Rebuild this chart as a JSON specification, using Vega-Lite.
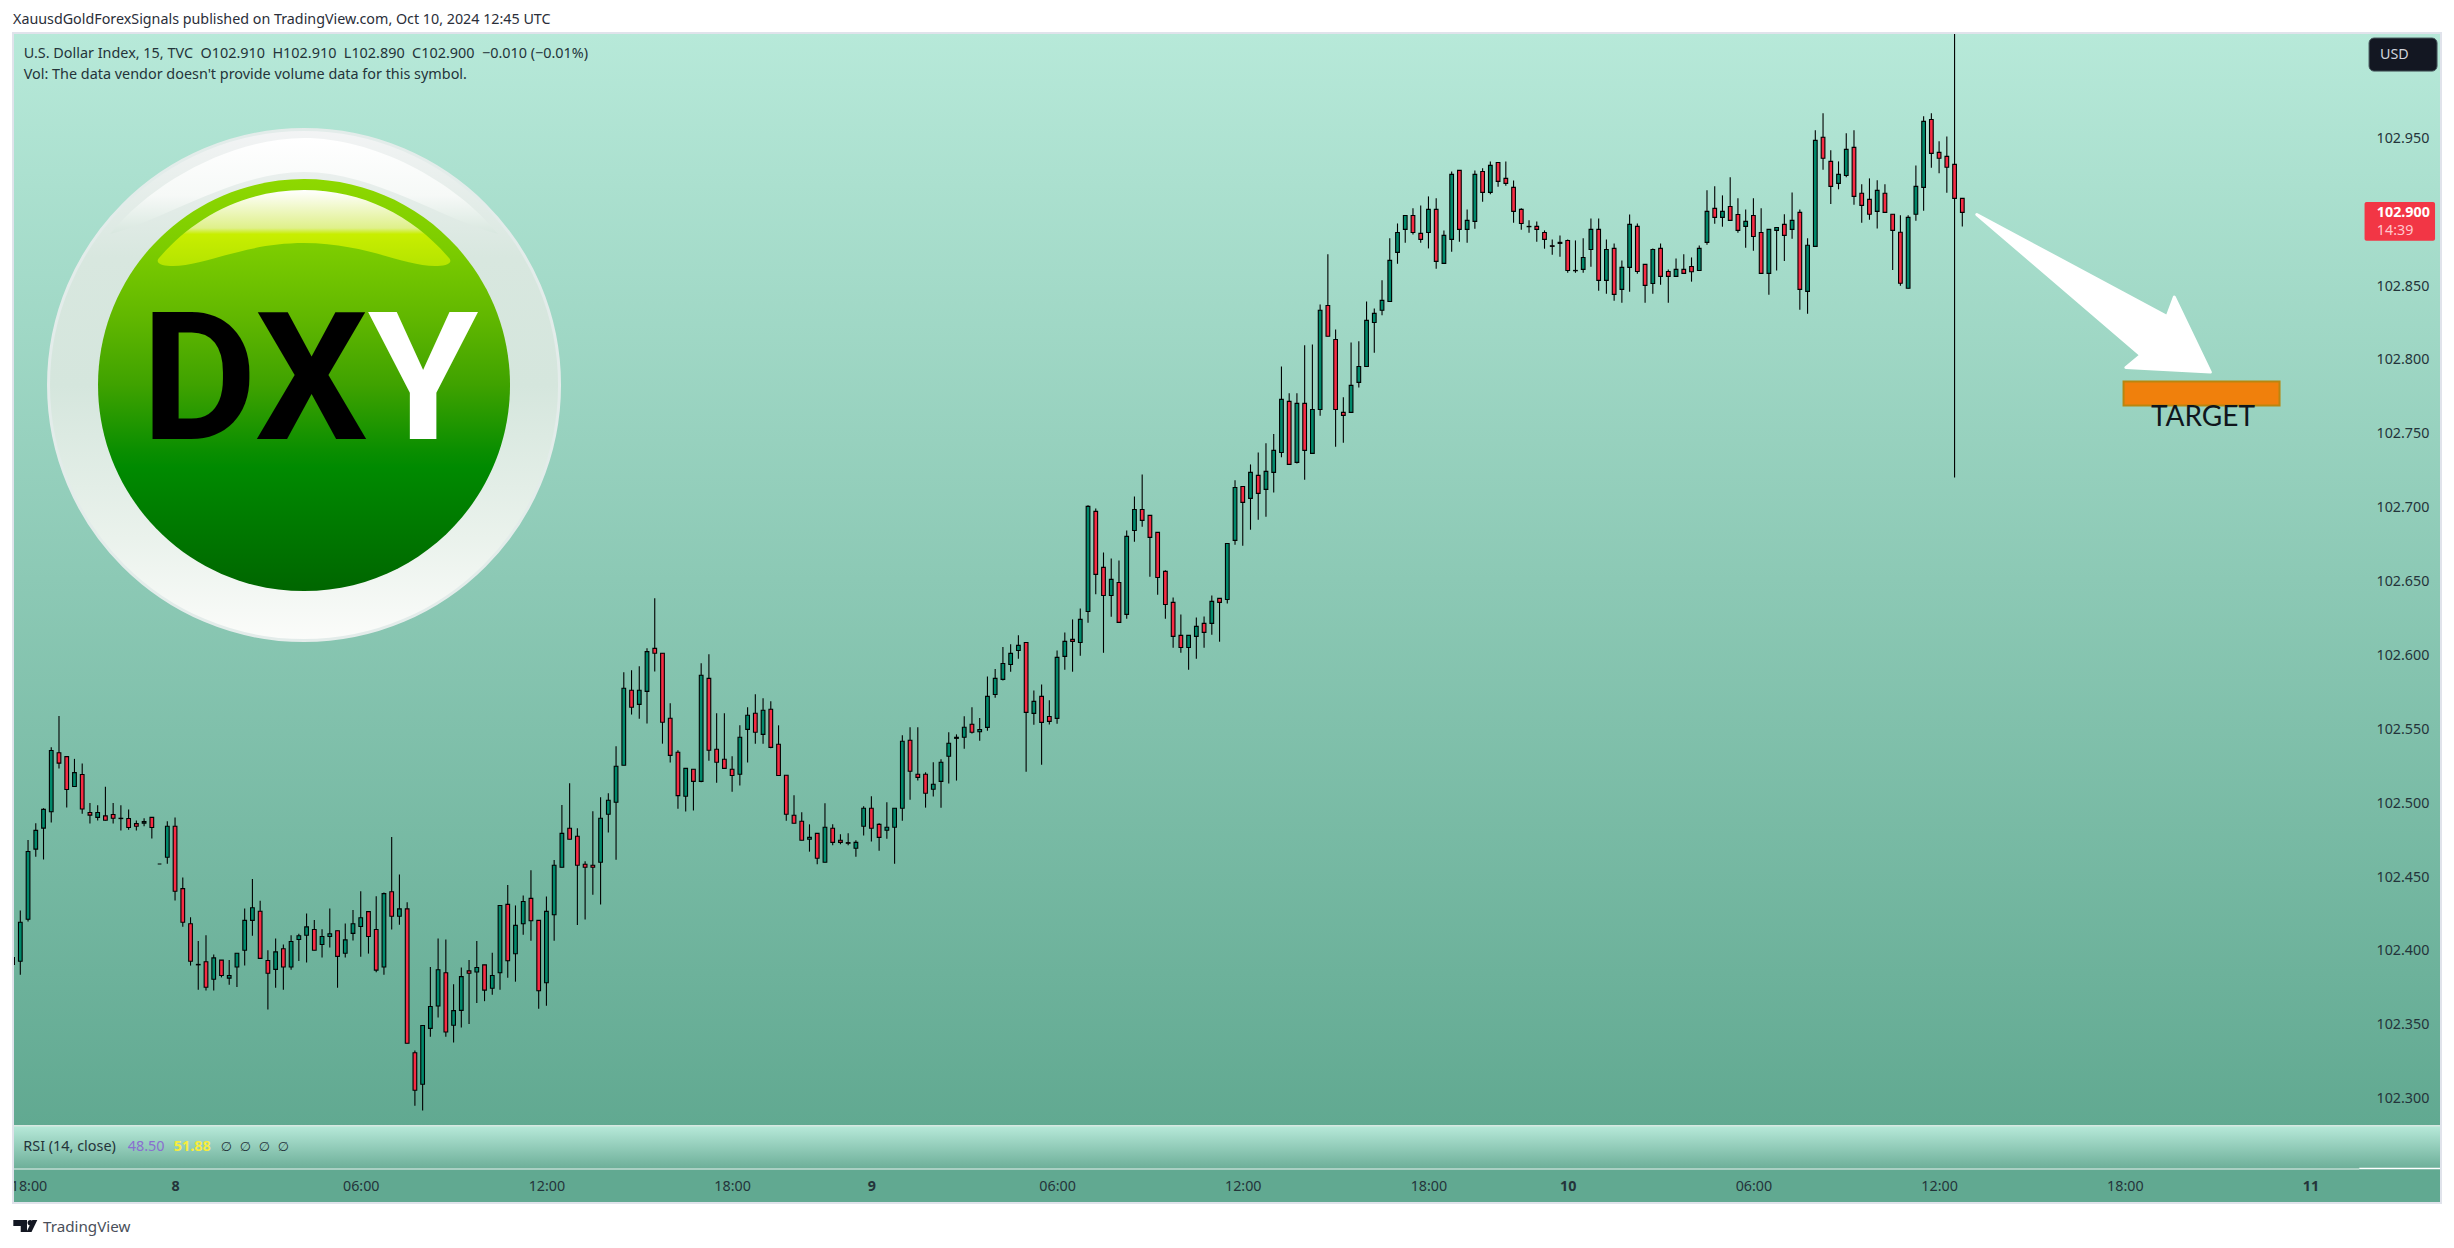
{
"$schema":"https://vega.github.io/schema/vega-lite/v6.json",
"autosize":{"type":"none"},
"padding":{"left":13,"top":33,"right":13,"bottom":45},
"width":2428,"height":1170,
"background":"#ffffff",
"config":{"view":{"stroke":null},"font":"Noto Sans","scale":{"continuousPadding":0}},
"encoding":{
"x":{"field":"bar","type":"quantitative","scale":{"domain":[0.056,313.87],"nice":false,"zero":false,"padding":0},
"axis":{"title":null,"orient":"bottom","offset":-24,"domain":false,"ticks":false,"grid":false,"labelPadding":0,"labelBaseline":"top","labelFont":"Noto Sans","labelFontSize":14.3,"labelColor":"#24343a","labelFlush":false,"labelOverlap":false,"labelBound":false,"zindex":1,
"values":[21,45,69,93,111,135,159,183,201,225,249,273,297],
"labelFontWeight":{"condition":{"test":"datum.value==21||datum.value==111||datum.value==201||datum.value==297","value":"bold"},"value":"normal"},
"labelExpr":"datum.value==21?'8':datum.value==111?'9':datum.value==201?'10':datum.value==297?'11':(datum.value==45||datum.value==135||datum.value==225)?'06:00':(datum.value==69||datum.value==159||datum.value==249)?'12:00':'18:00'"}},
"y":{"field":"price","type":"quantitative","scale":{"domain":[102.2294,103.0213],"nice":false,"zero":false},
"axis":{"title":null,"orient":"right","offset":-65,"domain":false,"ticks":false,"grid":false,"labelPadding":0,"labelAlign":"left","labelFlush":false,"labelFont":"Noto Sans","labelFontSize":14.3,"labelColor":"#24343a","labelOverlap":false,"labelBound":false,"format":".3f","zindex":1,
"values":[102.3,102.35,102.4,102.45,102.5,102.55,102.6,102.65,102.7,102.75,102.8,102.85,102.95]}}
},
"layer":[
{"data":{"values":[{"bar":0.056,"bar2":313.87,"price":103.0213,"price2":102.2818}]},
 "mark":{"type":"rect","color":{"gradient":"linear","x1":0,"x2":0,"y1":0,"y2":1,"stops":[{"offset":0,"color":"#b7e9d9"},{"offset":1,"color":"#61a991"}]}},
 "encoding":{"x2":{"field":"bar2"},"y2":{"field":"price2"}}},
{"data":{"values":[{"bar":0.056,"bar2":313.87,"price":102.2815,"price2":102.2524}]},
 "mark":{"type":"rect","color":{"gradient":"linear","x1":0,"x2":0,"y1":0,"y2":1,"stops":[{"offset":0,"color":"#b7e9d9"},{"offset":1,"color":"#6cae98"}]}},
 "encoding":{"x2":{"field":"bar2"},"y2":{"field":"price2"}}},
{"data":{"values":[{"bar":0.056,"bar2":313.87,"price":102.2524,"price2":102.2294}]},
 "mark":{"type":"rect","color":"#61a991"},
 "encoding":{"x2":{"field":"bar2"},"y2":{"field":"price2"}}},
{"data":{"values":[{"bar":0.056,"bar2":313.87,"price":102.2817}]},
 "mark":{"type":"rule","color":"#d8e8e2","strokeWidth":1.5},
 "encoding":{"x2":{"field":"bar2"}}},
{"data":{"values":[{"bar":0.056,"bar2":303.3,"price":102.2524}]},
 "mark":{"type":"rule","color":"#eef5f2","strokeWidth":1},
 "encoding":{"x2":{"field":"bar2"}}},
{"data":{"values":[{"bar":303.3,"bar2":313.87,"price":102.2527}]},
 "mark":{"type":"rule","color":"#ffffff","strokeWidth":1.5},
 "encoding":{"x2":{"field":"bar2"}}},
{"data":{"values":[{"bar":37.67,"price":102.783}]},
 "mark":{"type":"point","filled":true,"opacity":1,"size":4,"strokeWidth":3,"stroke":"#e3ecea",
 "fill":{"gradient":"linear","x1":0,"x2":0,"y1":0,"y2":1,"stops":[{"offset":0,"color":"#f3f4f5"},{"offset":0.25,"color":"#d8e7df"},{"offset":0.5,"color":"#d5e6dd"},{"offset":0.8,"color":"#eaf2ec"},{"offset":1,"color":"#fbfcfa"}]},
 "shape":"M0,-255.5 C141,-255.5,255.5,-141,255.5,0 C255.5,141,141,255.5,0,255.5 C-141,255.5,-255.5,141,-255.5,0 C-255.5,-141,-141,-255.5,0,-255.5 Z"}},
{"data":{"values":[{"bar":37.67,"price":102.783}]},
 "mark":{"type":"point","filled":true,"opacity":1,"size":4,"strokeWidth":0,
 "fill":{"gradient":"linear","x1":0,"x2":0,"y1":0,"y2":1,"stops":[{"offset":0,"color":"#ffffff"},{"offset":0.6,"color":"#f6f9f7"},{"offset":1,"color":"#d8e7df"}]},
 "shape":"M-194,-151 C-150,-205,-70,-247,0,-247 C70,-247,150,-205,194,-151 C140,-165,70,-213,0,-213 C-70,-213,-140,-165,-194,-151 Z"}},
{"data":{"values":[{"bar":37.67,"price":102.783}]},
 "mark":{"type":"point","filled":true,"opacity":1,"size":4,"strokeWidth":0,
 "fill":{"gradient":"linear","x1":0,"x2":0,"y1":0,"y2":1,"stops":[{"offset":0,"color":"#8ed800"},{"offset":0.17,"color":"#7ccc00"},{"offset":0.33,"color":"#62b800"},{"offset":0.5,"color":"#3fa200"},{"offset":0.66,"color":"#0a8e00"},{"offset":0.7,"color":"#008a00"},{"offset":1,"color":"#006600"}]},
 "shape":"M0,-206 C113.8,-206,206,-113.8,206,0 C206,113.8,113.8,206,0,206 C-113.8,206,-206,113.8,-206,0 C-206,-113.8,-113.8,-206,0,-206 Z"}},
{"data":{"values":[{"bar":37.67,"price":102.783}]},
 "mark":{"type":"point","filled":true,"opacity":1,"size":4,"strokeWidth":0,
 "fill":{"gradient":"linear","x1":0,"x2":0,"y1":0,"y2":1,"stops":[{"offset":0,"color":"#ffffff"},{"offset":0.5,"color":"#dff08a"},{"offset":0.58,"color":"#c8ee00"},{"offset":1,"color":"#b4e400"}]},
 "shape":"M-145,-127 C-110,-168,-60,-195,0,-195 C60,-195,110,-168,145,-127 C150,-121,140,-119,131,-119 C100,-119,60,-142,0,-142 C-60,-142,-100,-119,-131,-119 C-140,-119,-150,-121,-145,-127 Z"}},
{"data":{"values":[{"bar":45.94,"price":102.7823,"label":"DX"}]},
 "mark":{"type":"text","font":"Roboto","fontWeight":"bold","fontSize":178,"align":"right","baseline":"middle","color":"#000000"},
 "encoding":{"text":{"field":"label"}}},
{"data":{"values":[{"bar":45.94,"price":102.7823,"label":"Y"}]},
 "mark":{"type":"text","font":"Roboto","fontWeight":"bold","fontSize":178,"align":"left","baseline":"middle","color":"#ffffff"},
 "encoding":{"text":{"field":"label"}}},
{"data":{"values":[{"bar":269.0,"price":102.8453}]},
 "mark":{"type":"point","filled":true,"opacity":1,"size":4,"fill":"#ffffff","stroke":"#ffffff","strokeWidth":3,"strokeJoin":"round",
 "shape":"M-117,-78.5 L73.3,23.5 L80.5,4 L116.5,79 L32,74.5 L47,62 Z"}},
{"data":{"name":"candles"},"mark":{"type":"rule","color":"#000000","strokeWidth":1.1,"clip":true},
 "encoding":{"y":{"field":"high","type":"quantitative","scale":{"domain":[102.2294,103.0213],"nice":false,"zero":false},
 "axis":{"title":null,"orient":"right","offset":-65,"domain":false,"ticks":false,"grid":false,"labelPadding":0,"labelAlign":"left","labelFlush":false,"labelFont":"Noto Sans","labelFontSize":14.3,"labelColor":"#24343a","labelOverlap":false,"labelBound":false,"format":".3f","zindex":1,"values":[102.3,102.35,102.4,102.45,102.5,102.55,102.6,102.65,102.7,102.75,102.8,102.85,102.95]}},"y2":{"field":"low"}}},
{"data":{"name":"candles"},"mark":{"type":"bar","size":3.7,"stroke":"#000000","strokeWidth":1.1,"orient":"vertical","clip":true},
 "encoding":{"y":{"field":"open","type":"quantitative","scale":{"domain":[102.2294,103.0213],"nice":false,"zero":false},
 "axis":{"title":null,"orient":"right","offset":-65,"domain":false,"ticks":false,"grid":false,"labelPadding":0,"labelAlign":"left","labelFlush":false,"labelFont":"Noto Sans","labelFontSize":14.3,"labelColor":"#24343a","labelOverlap":false,"labelBound":false,"format":".3f","zindex":1,"values":[102.3,102.35,102.4,102.45,102.5,102.55,102.6,102.65,102.7,102.75,102.8,102.85,102.95]}},"y2":{"field":"close"},
 "color":{"field":"dir","type":"nominal","scale":{"domain":["up","down"],"range":["#00896b","#f62c44"]},"legend":null}}},
{"data":{"values":[{"bar":272.84,"bar2":293,"price":102.7854,"price2":102.7692}]},
 "mark":{"type":"rect","color":"#f0800c","stroke":"#b9860f","strokeWidth":2},
 "encoding":{"x2":{"field":"bar2"},"y2":{"field":"price2"}}},
{"data":{"values":[{"bar":283.1,"price":102.7607,"label":"TARGET"}]},
 "mark":{"type":"text","font":"Lato","fontSize":28,"align":"center","baseline":"middle","color":"#10161c"},
 "encoding":{"text":{"field":"label"}}},
{"data":{"values":[{"bar":304.57,"bar2":313.36,"price":103.0179,"price2":102.9955}]},
 "mark":{"type":"rect","color":"#131722","stroke":"#4a5a60","strokeWidth":1,"cornerRadius":5},
 "encoding":{"x2":{"field":"bar2"},"y2":{"field":"price2"}}},
{"data":{"values":[{"bar":305.99,"price":103.0066,"label":"USD"}]},
 "mark":{"type":"text","font":"Noto Sans","fontSize":14.3,"align":"left","baseline":"middle","color":"#d1d4dc"},
 "encoding":{"text":{"field":"label"}}},
{"data":{"values":[{"bar":303.99,"bar2":313.1,"price":102.9069,"price2":102.8807}]},
 "mark":{"type":"rect","color":"#f23645","cornerRadius":2},
 "encoding":{"x2":{"field":"bar2"},"y2":{"field":"price2"}}},
{"data":{"values":[{"bar":305.57,"price":102.8996,"label":"102.900"}]},
 "mark":{"type":"text","font":"Noto Sans","fontSize":14.3,"fontWeight":"bold","align":"left","baseline":"middle","color":"#ffffff"},
 "encoding":{"text":{"field":"label"}}},
{"data":{"values":[{"bar":305.57,"price":102.8875,"label":"14:39"}]},
 "mark":{"type":"text","font":"Noto Sans","fontSize":14.3,"align":"left","baseline":"middle","color":"#ffc7cd"},
 "encoding":{"text":{"field":"label"}}},
{"data":{"values":[{"bar":0.056,"price":103.0301,"label":"XauusdGoldForexSignals published on TradingView.com, Oct 10, 2024 12:45 UTC"}]},
 "mark":{"type":"text","font":"Noto Sans","fontSize":14.3,"align":"left","baseline":"middle","color":"#2a2e39"},
 "encoding":{"text":{"field":"label"}}},
{"data":{"values":[{"bar":1.44,"price":103.0071,"label":"U.S. Dollar Index, 15, TVC\u00a0\u00a0O102.910\u00a0\u00a0H102.910\u00a0\u00a0L102.890\u00a0\u00a0C102.900\u00a0\u00a0\u22120.010 (\u22120.01%)"},{"bar":1.44,"price":102.9928,"label":"Vol: The data vendor doesn't provide volume data for this symbol."}]},
 "mark":{"type":"text","font":"Noto Sans","fontSize":14.4,"align":"left","baseline":"middle","color":"#24343a"},
 "encoding":{"text":{"field":"label"}}},
{"data":{"values":[{"bar":1.39,"price":102.2675,"label":"RSI (14, close)"}]},
 "mark":{"type":"text","font":"Noto Sans","fontSize":14.4,"align":"left","baseline":"middle","color":"#24343a"},
 "encoding":{"text":{"field":"label"}}},
{"data":{"values":[{"bar":14.88,"price":102.2675,"label":"48.50"}]},
 "mark":{"type":"text","font":"Noto Sans","fontSize":14.4,"align":"left","baseline":"middle","color":"#8a6fd0"},
 "encoding":{"text":{"field":"label"}}},
{"data":{"values":[{"bar":20.83,"price":102.2675,"label":"51.88"}]},
 "mark":{"type":"text","font":"Noto Sans","fontSize":14.4,"fontWeight":"bold","align":"left","baseline":"middle","color":"#f7ec3c"},
 "encoding":{"text":{"field":"label"}}},
{"data":{"values":[{"bar":26.9,"price":102.2675,"label":"\u2205"},{"bar":29.36,"price":102.2675,"label":"\u2205"},{"bar":31.81,"price":102.2675,"label":"\u2205"},{"bar":34.27,"price":102.2675,"label":"\u2205"}]},
 "mark":{"type":"text","font":"DejaVu Sans","fontSize":13,"align":"left","baseline":"middle","color":"#24343a"},
 "encoding":{"text":{"field":"label"}}},
{"data":{"values":[{"bar":2.12,"price":102.2405,"label":"18:00"}]},
 "mark":{"type":"text","font":"Noto Sans","fontSize":14.3,"align":"center","baseline":"middle","color":"#24343a","clip":true},
 "encoding":{"text":{"field":"label"}}},
{"data":{"values":[{"bar":1.61,"price":102.2138}]},
 "mark":{"type":"point","filled":true,"opacity":1,"size":4,"fill":"#131722","strokeWidth":0,
 "shape":"M-11.7,-6 L2,-6 L2,6 L-4.3,6 L-4.3,0 L-11.7,0 Z M12.3,-6 L6.5,6 L1.5,6 L7.3,-6 Z M2.5,-3.3 C2.5,-4.8,3.7,-6,5.2,-6 C6.7,-6,7.9,-4.8,7.9,-3.3 C7.9,-1.8,6.7,-0.6,5.2,-0.6 C3.7,-0.6,2.5,-1.8,2.5,-3.3 Z"}},
{"data":{"values":[{"bar":3.93,"price":102.2132,"label":"TradingView"}]},
 "mark":{"type":"text","font":"Noto Sans","fontSize":15.2,"align":"left","baseline":"middle","color":"#4a4f5a"},
 "encoding":{"text":{"field":"label"}}},
{"data":{"values":[{"bar":0.056,"bar2":313.87,"price":103.0213,"price2":102.2294}]},
 "mark":{"type":"rect","filled":false,"stroke":"#e0e3eb","strokeWidth":2},
 "encoding":{"x2":{"field":"bar2"},"y2":{"field":"price2"}}}
],
"datasets":{"candles":[
{"bar":0,"open":102.3956,"high":102.3956,"low":102.3909,"close":102.3909,"dir":"down"},
{"bar":1,"open":102.393,"high":102.4274,"low":102.3839,"close":102.4194,"dir":"up"},
{"bar":2,"open":102.4215,"high":102.4751,"low":102.4199,"close":102.4673,"dir":"up"},
{"bar":3,"open":102.4689,"high":102.4865,"low":102.4637,"close":102.4816,"dir":"up"},
{"bar":4,"open":102.4831,"high":102.4966,"low":102.4619,"close":102.4958,"dir":"up"},
{"bar":5,"open":102.4942,"high":102.5378,"low":102.487,"close":102.5357,"dir":"up"},
{"bar":6,"open":102.5341,"high":102.559,"low":102.5235,"close":102.5271,"dir":"down"},
{"bar":7,"open":102.5315,"high":102.5315,"low":102.4971,"close":102.5093,"dir":"down"},
{"bar":8,"open":102.5113,"high":102.53,"low":102.5113,"close":102.5207,"dir":"up"},
{"bar":9,"open":102.5194,"high":102.5269,"low":102.4929,"close":102.4961,"dir":"down"},
{"bar":10,"open":102.4937,"high":102.5002,"low":102.4862,"close":102.4919,"dir":"down"},
{"bar":11,"open":102.4904,"high":102.4986,"low":102.4883,"close":102.4937,"dir":"up"},
{"bar":12,"open":102.4914,"high":102.5111,"low":102.4883,"close":102.4885,"dir":"down"},
{"bar":13,"open":102.4924,"high":102.5002,"low":102.4862,"close":102.4898,"dir":"down"},
{"bar":14,"open":102.4898,"high":102.4986,"low":102.4816,"close":102.4896,"dir":"down"},
{"bar":15,"open":102.4896,"high":102.4958,"low":102.4821,"close":102.4836,"dir":"down"},
{"bar":16,"open":102.4862,"high":102.4883,"low":102.4816,"close":102.4844,"dir":"down"},
{"bar":17,"open":102.4865,"high":102.4898,"low":102.4844,"close":102.4875,"dir":"up"},
{"bar":18,"open":102.4904,"high":102.4904,"low":102.4761,"close":102.4836,"dir":"down"},
{"bar":19,"open":102.4588,"high":102.4588,"low":102.4588,"close":102.4588,"dir":"down"},
{"bar":20,"open":102.4634,"high":102.4878,"low":102.459,"close":102.4844,"dir":"up"},
{"bar":21,"open":102.4844,"high":102.4904,"low":102.4342,"close":102.4404,"dir":"down"},
{"bar":22,"open":102.4422,"high":102.4497,"low":102.4163,"close":102.4194,"dir":"down"},
{"bar":23,"open":102.4184,"high":102.4228,"low":102.3901,"close":102.393,"dir":"down"},
{"bar":24,"open":102.3909,"high":102.4067,"low":102.3738,"close":102.3906,"dir":"down"},
{"bar":25,"open":102.3927,"high":102.4106,"low":102.3733,"close":102.3754,"dir":"down"},
{"bar":26,"open":102.3808,"high":102.3976,"low":102.3733,"close":102.3953,"dir":"up"},
{"bar":27,"open":102.3938,"high":102.3938,"low":102.3821,"close":102.3834,"dir":"down"},
{"bar":28,"open":102.3816,"high":102.3938,"low":102.3772,"close":102.3834,"dir":"up"},
{"bar":29,"open":102.3891,"high":102.3984,"low":102.3756,"close":102.3984,"dir":"up"},
{"bar":30,"open":102.4005,"high":102.4287,"low":102.3901,"close":102.4207,"dir":"up"},
{"bar":31,"open":102.4207,"high":102.4487,"low":102.4103,"close":102.4292,"dir":"up"},
{"bar":32,"open":102.4269,"high":102.4339,"low":102.395,"close":102.395,"dir":"down"},
{"bar":33,"open":102.3935,"high":102.4005,"low":102.3603,"close":102.3849,"dir":"down"},
{"bar":34,"open":102.3875,"high":102.4085,"low":102.3751,"close":102.3994,"dir":"up"},
{"bar":35,"open":102.4015,"high":102.4044,"low":102.3738,"close":102.3891,"dir":"down"},
{"bar":36,"open":102.3891,"high":102.4106,"low":102.3873,"close":102.4064,"dir":"up"},
{"bar":37,"open":102.4077,"high":102.4116,"low":102.3932,"close":102.4103,"dir":"up"},
{"bar":38,"open":102.4106,"high":102.4253,"low":102.3922,"close":102.4163,"dir":"up"},
{"bar":39,"open":102.4145,"high":102.4209,"low":102.4005,"close":102.4005,"dir":"down"},
{"bar":40,"open":102.4044,"high":102.4147,"low":102.3956,"close":102.4098,"dir":"up"},
{"bar":41,"open":102.4098,"high":102.4287,"low":102.4023,"close":102.4116,"dir":"up"},
{"bar":42,"open":102.4137,"high":102.4137,"low":102.3751,"close":102.3963,"dir":"down"},
{"bar":43,"open":102.3984,"high":102.4186,"low":102.3956,"close":102.4075,"dir":"up"},
{"bar":44,"open":102.4119,"high":102.4277,"low":102.407,"close":102.4184,"dir":"up"},
{"bar":45,"open":102.4165,"high":102.4404,"low":102.3961,"close":102.4225,"dir":"up"},
{"bar":46,"open":102.4266,"high":102.4266,"low":102.3982,"close":102.4098,"dir":"down"},
{"bar":47,"open":102.4145,"high":102.437,"low":102.3855,"close":102.387,"dir":"down"},
{"bar":48,"open":102.3891,"high":102.4396,"low":102.3839,"close":102.4388,"dir":"up"},
{"bar":49,"open":102.4401,"high":102.4771,"low":102.4145,"close":102.4235,"dir":"down"},
{"bar":50,"open":102.4235,"high":102.4518,"low":102.4178,"close":102.4285,"dir":"up"},
{"bar":51,"open":102.4285,"high":102.4329,"low":102.3375,"close":102.3375,"dir":"down"},
{"bar":52,"open":102.3311,"high":102.3326,"low":102.2953,"close":102.3057,"dir":"down"},
{"bar":53,"open":102.3098,"high":102.3495,"low":102.292,"close":102.3495,"dir":"up"},
{"bar":54,"open":102.3476,"high":102.3891,"low":102.342,"close":102.3624,"dir":"up"},
{"bar":55,"open":102.3627,"high":102.4085,"low":102.3549,"close":102.3873,"dir":"up"},
{"bar":56,"open":102.3852,"high":102.4077,"low":102.342,"close":102.3451,"dir":"down"},
{"bar":57,"open":102.3497,"high":102.3774,"low":102.3381,"close":102.3596,"dir":"up"},
{"bar":58,"open":102.3598,"high":102.3888,"low":102.3482,"close":102.3826,"dir":"up"},
{"bar":59,"open":102.3865,"high":102.3938,"low":102.3505,"close":102.3849,"dir":"down"},
{"bar":60,"open":102.3857,"high":102.4067,"low":102.3647,"close":102.3888,"dir":"up"},
{"bar":61,"open":102.3906,"high":102.3906,"low":102.366,"close":102.3735,"dir":"down"},
{"bar":62,"open":102.3748,"high":102.3987,"low":102.3704,"close":102.3834,"dir":"up"},
{"bar":63,"open":102.3852,"high":102.4309,"low":102.3737,"close":102.4308,"dir":"up"},
{"bar":64,"open":102.4315,"high":102.4446,"low":102.3819,"close":102.3934,"dir":"down"},
{"bar":65,"open":102.3981,"high":102.4308,"low":102.3792,"close":102.4173,"dir":"up"},
{"bar":66,"open":102.4184,"high":102.4376,"low":102.411,"close":102.4335,"dir":"up"},
{"bar":67,"open":102.4356,"high":102.4547,"low":102.4069,"close":102.4204,"dir":"down"},
{"bar":68,"open":102.4207,"high":102.4207,"low":102.3609,"close":102.3731,"dir":"down"},
{"bar":69,"open":102.3785,"high":102.4369,"low":102.3629,"close":102.4268,"dir":"up"},
{"bar":70,"open":102.4245,"high":102.4616,"low":102.4069,"close":102.458,"dir":"up"},
{"bar":71,"open":102.4566,"high":102.4988,"low":102.4566,"close":102.4796,"dir":"up"},
{"bar":72,"open":102.483,"high":102.5135,"low":102.4756,"close":102.4756,"dir":"down"},
{"bar":73,"open":102.4776,"high":102.483,"low":102.4176,"close":102.458,"dir":"down"},
{"bar":74,"open":102.4587,"high":102.4607,"low":102.4212,"close":102.4566,"dir":"down"},
{"bar":75,"open":102.458,"high":102.4945,"low":102.4381,"close":102.4566,"dir":"down"},
{"bar":76,"open":102.46,"high":102.504,"low":102.4314,"close":102.4898,"dir":"up"},
{"bar":77,"open":102.4925,"high":102.5067,"low":102.4801,"close":102.502,"dir":"up"},
{"bar":78,"open":102.5006,"high":102.5385,"low":102.4618,"close":102.525,"dir":"up"},
{"bar":79,"open":102.5257,"high":102.5886,"low":102.5257,"close":102.5778,"dir":"up"},
{"bar":80,"open":102.5764,"high":102.59,"low":102.56,"close":102.5649,"dir":"down"},
{"bar":81,"open":102.5669,"high":102.5927,"low":102.5572,"close":102.5764,"dir":"up"},
{"bar":82,"open":102.5757,"high":102.6048,"low":102.5539,"close":102.6026,"dir":"up"},
{"bar":83,"open":102.6048,"high":102.6387,"low":102.5891,"close":102.6015,"dir":"down"},
{"bar":84,"open":102.6015,"high":102.6015,"low":102.5403,"close":102.5548,"dir":"down"},
{"bar":85,"open":102.5575,"high":102.5676,"low":102.5275,"close":102.5324,"dir":"down"},
{"bar":86,"open":102.5345,"high":102.5358,"low":102.4963,"close":102.5051,"dir":"down"},
{"bar":87,"open":102.5047,"high":102.5236,"low":102.4943,"close":102.5236,"dir":"up"},
{"bar":88,"open":102.523,"high":102.523,"low":102.495,"close":102.5148,"dir":"down"},
{"bar":89,"open":102.5148,"high":102.5947,"low":102.5142,"close":102.5866,"dir":"up"},
{"bar":90,"open":102.5845,"high":102.6008,"low":102.5288,"close":102.5358,"dir":"down"},
{"bar":91,"open":102.5365,"high":102.5609,"low":102.5139,"close":102.5277,"dir":"down"},
{"bar":92,"open":102.5297,"high":102.5609,"low":102.5236,"close":102.5236,"dir":"down"},
{"bar":93,"open":102.523,"high":102.5318,"low":102.5078,"close":102.5187,"dir":"down"},
{"bar":94,"open":102.5196,"high":102.5527,"low":102.5119,"close":102.5446,"dir":"up"},
{"bar":95,"open":102.55,"high":102.5649,"low":102.5275,"close":102.5595,"dir":"up"},
{"bar":96,"open":102.5609,"high":102.5737,"low":102.5403,"close":102.548,"dir":"down"},
{"bar":97,"open":102.5466,"high":102.571,"low":102.5403,"close":102.5629,"dir":"up"},
{"bar":98,"open":102.5636,"high":102.569,"low":102.5372,"close":102.5378,"dir":"down"},
{"bar":99,"open":102.5399,"high":102.5527,"low":102.5187,"close":102.5187,"dir":"down"},
{"bar":100,"open":102.5189,"high":102.5189,"low":102.4882,"close":102.4925,"dir":"down"},
{"bar":101,"open":102.4918,"high":102.5054,"low":102.4864,"close":102.4864,"dir":"down"},
{"bar":102,"open":102.4878,"high":102.4939,"low":102.4749,"close":102.4749,"dir":"down"},
{"bar":103,"open":102.4756,"high":102.4857,"low":102.4672,"close":102.4769,"dir":"up"},
{"bar":104,"open":102.4796,"high":102.4796,"low":102.4587,"close":102.4627,"dir":"down"},
{"bar":105,"open":102.46,"high":102.4999,"low":102.46,"close":102.4837,"dir":"up"},
{"bar":106,"open":102.483,"high":102.4857,"low":102.4715,"close":102.4735,"dir":"down"},
{"bar":107,"open":102.4749,"high":102.479,"low":102.4722,"close":102.4735,"dir":"down"},
{"bar":108,"open":102.4733,"high":102.4796,"low":102.4715,"close":102.4729,"dir":"down"},
{"bar":109,"open":102.4695,"high":102.4749,"low":102.4638,"close":102.4735,"dir":"up"},
{"bar":110,"open":102.4844,"high":102.4979,"low":102.4781,"close":102.4966,"dir":"up"},
{"bar":111,"open":102.4966,"high":102.5047,"low":102.474,"close":102.483,"dir":"down"},
{"bar":112,"open":102.4857,"high":102.4864,"low":102.4679,"close":102.4769,"dir":"down"},
{"bar":113,"open":102.4817,"high":102.5006,"low":102.476,"close":102.4837,"dir":"up"},
{"bar":114,"open":102.4837,"high":102.4966,"low":102.4591,"close":102.4966,"dir":"up"},
{"bar":115,"open":102.4966,"high":102.546,"low":102.4882,"close":102.5419,"dir":"up"},
{"bar":116,"open":102.5426,"high":102.5514,"low":102.5024,"close":102.5216,"dir":"down"},
{"bar":117,"open":102.5196,"high":102.5514,"low":102.5153,"close":102.5175,"dir":"down"},
{"bar":118,"open":102.5196,"high":102.5209,"low":102.497,"close":102.5067,"dir":"down"},
{"bar":119,"open":102.5094,"high":102.5277,"low":102.5045,"close":102.5128,"dir":"up"},
{"bar":120,"open":102.5148,"high":102.5297,"low":102.497,"close":102.5277,"dir":"up"},
{"bar":121,"open":102.5318,"high":102.548,"low":102.5133,"close":102.5406,"dir":"up"},
{"bar":122,"open":102.5439,"high":102.5466,"low":102.5153,"close":102.5446,"dir":"up"},
{"bar":123,"open":102.5446,"high":102.5588,"low":102.5369,"close":102.5514,"dir":"up"},
{"bar":124,"open":102.5534,"high":102.5649,"low":102.5471,"close":102.548,"dir":"down"},
{"bar":125,"open":102.5484,"high":102.5576,"low":102.5423,"close":102.5499,"dir":"up"},
{"bar":126,"open":102.5513,"high":102.5858,"low":102.549,"close":102.5723,"dir":"up"},
{"bar":127,"open":102.5736,"high":102.5908,"low":102.5714,"close":102.5845,"dir":"up"},
{"bar":128,"open":102.5838,"high":102.6057,"low":102.5831,"close":102.5946,"dir":"up"},
{"bar":129,"open":102.5939,"high":102.6075,"low":102.589,"close":102.6014,"dir":"up"},
{"bar":130,"open":102.6034,"high":102.6136,"low":102.5978,"close":102.6068,"dir":"up"},
{"bar":131,"open":102.6088,"high":102.6088,"low":102.5213,"close":102.5615,"dir":"down"},
{"bar":132,"open":102.5608,"high":102.5763,"low":102.5531,"close":102.5689,"dir":"up"},
{"bar":133,"open":102.5723,"high":102.5804,"low":102.526,"close":102.5547,"dir":"down"},
{"bar":134,"open":102.5587,"high":102.5696,"low":102.5533,"close":102.5554,"dir":"down"},
{"bar":135,"open":102.5574,"high":102.6034,"low":102.5538,"close":102.5987,"dir":"up"},
{"bar":136,"open":102.5994,"high":102.6156,"low":102.5903,"close":102.6095,"dir":"up"},
{"bar":137,"open":102.6109,"high":102.6244,"low":102.589,"close":102.6095,"dir":"down"},
{"bar":138,"open":102.6088,"high":102.6318,"low":102.5998,"close":102.6244,"dir":"up"},
{"bar":139,"open":102.6298,"high":102.7016,"low":102.6221,"close":102.7009,"dir":"up"},
{"bar":140,"open":102.6975,"high":102.6995,"low":102.6415,"close":102.6549,"dir":"down"},
{"bar":141,"open":102.6596,"high":102.6697,"low":102.6018,"close":102.6406,"dir":"down"},
{"bar":142,"open":102.6406,"high":102.6657,"low":102.6262,"close":102.6515,"dir":"up"},
{"bar":143,"open":102.6494,"high":102.6643,"low":102.6224,"close":102.6224,"dir":"down"},
{"bar":144,"open":102.6278,"high":102.6846,"low":102.6248,"close":102.6806,"dir":"up"},
{"bar":145,"open":102.6846,"high":102.7076,"low":102.677,"close":102.6988,"dir":"up"},
{"bar":146,"open":102.6988,"high":102.7225,"low":102.6871,"close":102.6914,"dir":"down"},
{"bar":147,"open":102.6948,"high":102.6948,"low":102.6533,"close":102.6799,"dir":"down"},
{"bar":148,"open":102.6833,"high":102.6833,"low":102.6411,"close":102.6528,"dir":"down"},
{"bar":149,"open":102.6569,"high":102.6576,"low":102.6248,"close":102.6345,"dir":"down"},
{"bar":150,"open":102.6359,"high":102.6393,"low":102.6052,"close":102.6129,"dir":"down"},
{"bar":151,"open":102.6136,"high":102.6278,"low":102.6018,"close":102.6054,"dir":"down"},
{"bar":152,"open":102.6054,"high":102.6136,"low":102.5903,"close":102.6136,"dir":"up"},
{"bar":153,"open":102.6129,"high":102.6257,"low":102.5978,"close":102.6197,"dir":"up"},
{"bar":154,"open":102.6217,"high":102.6264,"low":102.6052,"close":102.6156,"dir":"down"},
{"bar":155,"open":102.6217,"high":102.6406,"low":102.614,"close":102.6366,"dir":"up"},
{"bar":156,"open":102.6386,"high":102.6386,"low":102.6093,"close":102.6359,"dir":"down"},
{"bar":157,"open":102.6379,"high":102.6758,"low":102.6352,"close":102.6758,"dir":"up"},
{"bar":158,"open":102.6779,"high":102.7185,"low":102.6749,"close":102.7137,"dir":"up"},
{"bar":159,"open":102.7144,"high":102.7144,"low":102.6743,"close":102.7036,"dir":"down"},
{"bar":160,"open":102.7063,"high":102.7293,"low":102.6851,"close":102.7239,"dir":"up"},
{"bar":161,"open":102.7219,"high":102.7374,"low":102.6918,"close":102.7097,"dir":"down"},
{"bar":162,"open":102.7124,"high":102.7436,"low":102.6939,"close":102.7246,"dir":"up"},
{"bar":163,"open":102.7239,"high":102.7499,"low":102.7103,"close":102.7388,"dir":"up"},
{"bar":164,"open":102.7374,"high":102.7956,"low":102.7341,"close":102.7733,"dir":"up"},
{"bar":165,"open":102.772,"high":102.7774,"low":102.7293,"close":102.7293,"dir":"down"},
{"bar":166,"open":102.7307,"high":102.7774,"low":102.73,"close":102.7706,"dir":"up"},
{"bar":167,"open":102.7706,"high":102.8099,"low":102.7189,"close":102.7388,"dir":"down"},
{"bar":168,"open":102.7368,"high":102.8105,"low":102.7368,"close":102.7665,"dir":"up"},
{"bar":169,"open":102.7665,"high":102.8376,"low":102.7623,"close":102.8336,"dir":"up"},
{"bar":170,"open":102.8369,"high":102.8715,"low":102.816,"close":102.816,"dir":"down"},
{"bar":171,"open":102.8139,"high":102.8207,"low":102.7413,"close":102.7665,"dir":"down"},
{"bar":172,"open":102.7645,"high":102.7747,"low":102.744,"close":102.7625,"dir":"down"},
{"bar":173,"open":102.7645,"high":102.8119,"low":102.7645,"close":102.7828,"dir":"up"},
{"bar":174,"open":102.7848,"high":102.8126,"low":102.7814,"close":102.7956,"dir":"up"},
{"bar":175,"open":102.7956,"high":102.8396,"low":102.7956,"close":102.8268,"dir":"up"},
{"bar":176,"open":102.8254,"high":102.8349,"low":102.8049,"close":102.8315,"dir":"up"},
{"bar":177,"open":102.8336,"high":102.8539,"low":102.8302,"close":102.8403,"dir":"up"},
{"bar":178,"open":102.8396,"high":102.8823,"low":102.8396,"close":102.8674,"dir":"up"},
{"bar":179,"open":102.8728,"high":102.8924,"low":102.8651,"close":102.8863,"dir":"up"},
{"bar":180,"open":102.8884,"high":102.8978,"low":102.8793,"close":102.8978,"dir":"up"},
{"bar":181,"open":102.8978,"high":102.9026,"low":102.885,"close":102.8863,"dir":"down"},
{"bar":182,"open":102.8857,"high":102.9046,"low":102.8793,"close":102.8816,"dir":"down"},
{"bar":183,"open":102.8863,"high":102.9107,"low":102.8755,"close":102.9019,"dir":"up"},
{"bar":184,"open":102.9019,"high":102.9094,"low":102.8618,"close":102.8667,"dir":"down"},
{"bar":185,"open":102.8654,"high":102.8877,"low":102.8654,"close":102.8843,"dir":"up"},
{"bar":186,"open":102.8816,"high":102.9276,"low":102.8733,"close":102.9256,"dir":"up"},
{"bar":187,"open":102.9283,"high":102.9283,"low":102.88,"close":102.8884,"dir":"down"},
{"bar":188,"open":102.8884,"high":102.9019,"low":102.8793,"close":102.8945,"dir":"up"},
{"bar":189,"open":102.8938,"high":102.9283,"low":102.8888,"close":102.9256,"dir":"up"},
{"bar":190,"open":102.9276,"high":102.9297,"low":102.9071,"close":102.9134,"dir":"down"},
{"bar":191,"open":102.9134,"high":102.9344,"low":102.9121,"close":102.9317,"dir":"up"},
{"bar":192,"open":102.9337,"high":102.9337,"low":102.9172,"close":102.9209,"dir":"down"},
{"bar":193,"open":102.9229,"high":102.9344,"low":102.9179,"close":102.9195,"dir":"down"},
{"bar":194,"open":102.9168,"high":102.9215,"low":102.8929,"close":102.9006,"dir":"down"},
{"bar":195,"open":102.9019,"high":102.9026,"low":102.8881,"close":102.8924,"dir":"down"},
{"bar":196,"open":102.8904,"high":102.8945,"low":102.8861,"close":102.8902,"dir":"down"},
{"bar":197,"open":102.8904,"high":102.8938,"low":102.88,"close":102.8884,"dir":"down"},
{"bar":198,"open":102.8863,"high":102.8877,"low":102.8753,"close":102.8816,"dir":"down"},
{"bar":199,"open":102.8773,"high":102.8816,"low":102.8712,"close":102.8769,"dir":"down"},
{"bar":200,"open":102.8796,"high":102.8843,"low":102.8699,"close":102.8789,"dir":"down"},
{"bar":201,"open":102.8809,"high":102.8816,"low":102.859,"close":102.8606,"dir":"down"},
{"bar":202,"open":102.8606,"high":102.8809,"low":102.859,"close":102.8604,"dir":"down"},
{"bar":203,"open":102.8613,"high":102.8823,"low":102.859,"close":102.8694,"dir":"up"},
{"bar":204,"open":102.8748,"high":102.8958,"low":102.8631,"close":102.8884,"dir":"up"},
{"bar":205,"open":102.8884,"high":102.8958,"low":102.8469,"close":102.8539,"dir":"down"},
{"bar":206,"open":102.8539,"high":102.8816,"low":102.8448,"close":102.8748,"dir":"up"},
{"bar":207,"open":102.8755,"high":102.8789,"low":102.8401,"close":102.8444,"dir":"down"},
{"bar":208,"open":102.8478,"high":102.8674,"low":102.8387,"close":102.8627,"dir":"up"},
{"bar":209,"open":102.8627,"high":102.8985,"low":102.8462,"close":102.8918,"dir":"up"},
{"bar":210,"open":102.8904,"high":102.8924,"low":102.8584,"close":102.8599,"dir":"down"},
{"bar":211,"open":102.8647,"high":102.8647,"low":102.8387,"close":102.8505,"dir":"down"},
{"bar":212,"open":102.8518,"high":102.8755,"low":102.8448,"close":102.8748,"dir":"up"},
{"bar":213,"open":102.8755,"high":102.8789,"low":102.8509,"close":102.8566,"dir":"down"},
{"bar":214,"open":102.8599,"high":102.8613,"low":102.8387,"close":102.8566,"dir":"down"},
{"bar":215,"open":102.8566,"high":102.8687,"low":102.8566,"close":102.8613,"dir":"up"},
{"bar":216,"open":102.8613,"high":102.8715,"low":102.8586,"close":102.8586,"dir":"down"},
{"bar":217,"open":102.8633,"high":102.8694,"low":102.853,"close":102.8597,"dir":"down"},
{"bar":218,"open":102.8606,"high":102.8775,"low":102.8606,"close":102.8755,"dir":"up"},
{"bar":219,"open":102.8796,"high":102.9148,"low":102.878,"close":102.9006,"dir":"up"},
{"bar":220,"open":102.9026,"high":102.9175,"low":102.8922,"close":102.8965,"dir":"down"},
{"bar":221,"open":102.8965,"high":102.9114,"low":102.8902,"close":102.9006,"dir":"up"},
{"bar":222,"open":102.9039,"high":102.9236,"low":102.8945,"close":102.8945,"dir":"down"},
{"bar":223,"open":102.8985,"high":102.9094,"low":102.8861,"close":102.8877,"dir":"down"},
{"bar":224,"open":102.8904,"high":102.9019,"low":102.876,"close":102.8938,"dir":"up"},
{"bar":225,"open":102.8978,"high":102.9094,"low":102.8739,"close":102.8836,"dir":"down"},
{"bar":226,"open":102.8863,"high":102.9026,"low":102.8586,"close":102.8586,"dir":"down"},
{"bar":227,"open":102.8586,"high":102.8884,"low":102.8442,"close":102.8884,"dir":"up"},
{"bar":228,"open":102.8877,"high":102.8897,"low":102.8606,"close":102.8897,"dir":"up"},
{"bar":229,"open":102.8918,"high":102.8986,"low":102.867,"close":102.8843,"dir":"down"},
{"bar":230,"open":102.8884,"high":102.9134,"low":102.8821,"close":102.8945,"dir":"up"},
{"bar":231,"open":102.8999,"high":102.9019,"low":102.834,"close":102.8478,"dir":"down"},
{"bar":232,"open":102.8464,"high":102.8823,"low":102.8313,"close":102.8776,"dir":"up"},
{"bar":233,"open":102.8769,"high":102.9554,"low":102.8769,"close":102.9486,"dir":"up"},
{"bar":234,"open":102.9507,"high":102.9669,"low":102.9288,"close":102.9365,"dir":"down"},
{"bar":235,"open":102.9344,"high":102.9419,"low":102.9055,"close":102.9175,"dir":"down"},
{"bar":236,"open":102.9195,"high":102.9344,"low":102.9155,"close":102.9256,"dir":"up"},
{"bar":237,"open":102.9249,"high":102.9534,"low":102.9236,"close":102.9425,"dir":"up"},
{"bar":238,"open":102.9439,"high":102.9554,"low":102.9051,"close":102.9107,"dir":"down"},
{"bar":239,"open":102.9128,"high":102.9189,"low":102.8929,"close":102.9046,"dir":"down"},
{"bar":240,"open":102.9087,"high":102.9229,"low":102.8949,"close":102.8986,"dir":"down"},
{"bar":241,"open":102.9006,"high":102.9216,"low":102.8889,"close":102.9148,"dir":"up"},
{"bar":242,"open":102.9128,"high":102.9189,"low":102.8999,"close":102.8999,"dir":"down"},
{"bar":243,"open":102.8986,"high":102.8986,"low":102.8609,"close":102.8877,"dir":"down"},
{"bar":244,"open":102.8864,"high":102.8979,"low":102.8503,"close":102.8519,"dir":"down"},
{"bar":245,"open":102.8485,"high":102.8979,"low":102.8485,"close":102.8965,"dir":"up"},
{"bar":246,"open":102.8986,"high":102.9317,"low":102.8943,"close":102.9175,"dir":"up"},
{"bar":247,"open":102.9168,"high":102.9649,"low":102.901,"close":102.9615,"dir":"up"},
{"bar":248,"open":102.9628,"high":102.9669,"low":102.9301,"close":102.9398,"dir":"down"},
{"bar":249,"open":102.9405,"high":102.948,"low":102.9263,"close":102.9365,"dir":"down"},
{"bar":250,"open":102.9378,"high":102.9513,"low":102.9132,"close":102.9304,"dir":"down"},
{"bar":251,"open":102.9324,"high":103.021,"low":102.7205,"close":102.9094,"dir":"down"},
{"bar":252,"open":102.9094,"high":102.9094,"low":102.8904,"close":102.8999,"dir":"down"}
]}
}
